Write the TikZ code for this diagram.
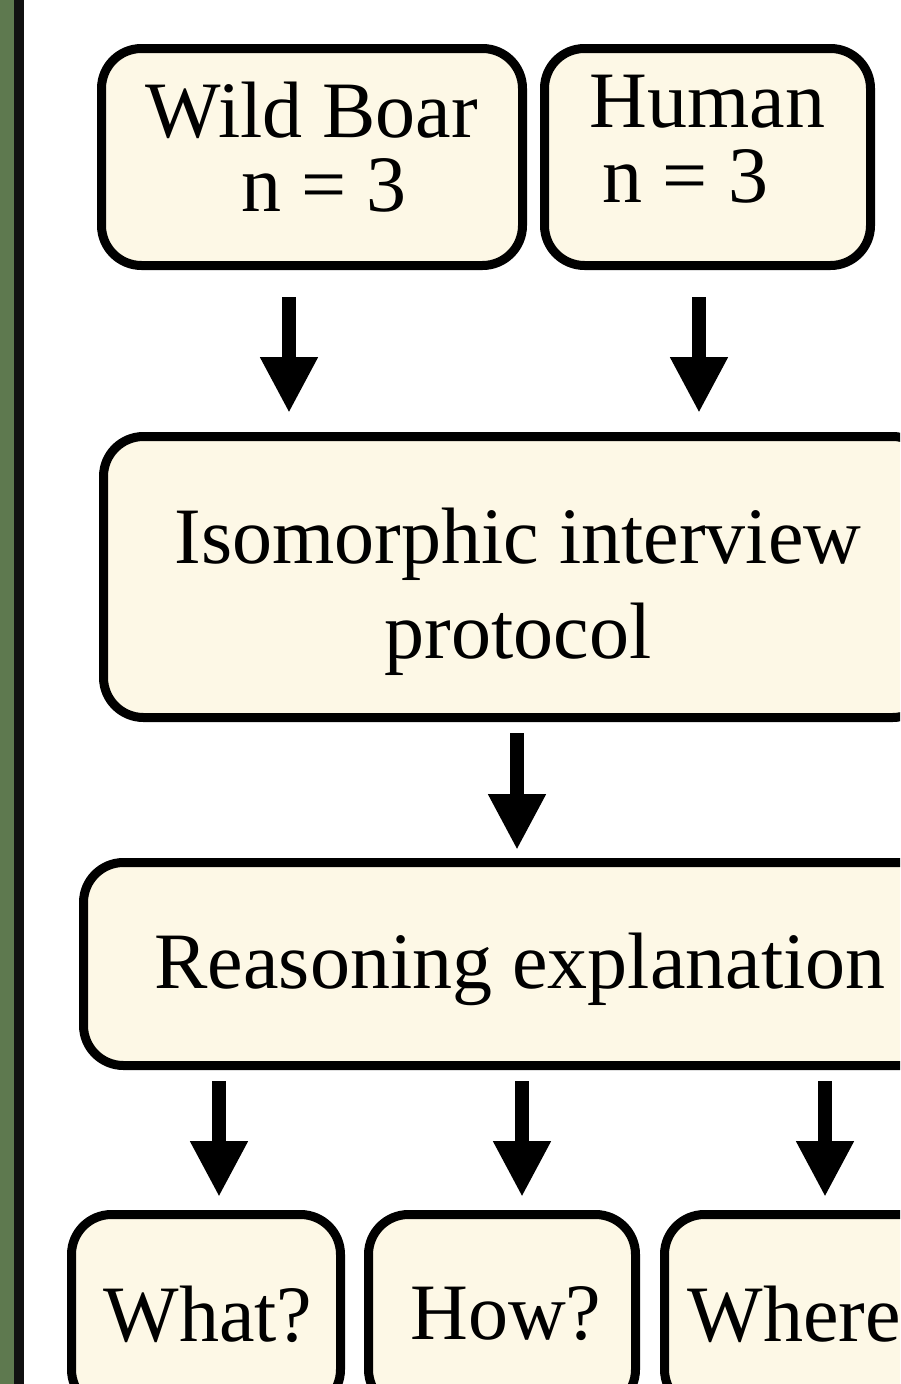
\documentclass[tikz,border=0pt]{standalone}
\usepackage{fontspec}
\setmainfont{Liberation Serif}
\usetikzlibrary{arrows.meta}
\definecolor{boxfill}{RGB}{253,248,230}
\definecolor{barGreen}{RGB}{94,121,79}
\definecolor{barBlack}{RGB}{17,17,17}
\tikzset{
  box/.style={draw=black, fill=boxfill, line width=9pt, rounded corners=40pt,
    inner sep=0pt},
  boxtext/.style={inner sep=0pt, align=center, font=\fontsize{80}{74}\selectfont},
  bigarrow/.style={line width=14pt, line cap=butt,
    -{Triangle[width=54pt,length=56pt]}}
}
\begin{document}
\begin{tikzpicture}[x=1pt,y=-1pt]
\useasboundingbox (0,0) rectangle (900,1384);
\clip (0,0) rectangle (900,1384);
\fill[white] (0,0) rectangle (900,1384);
\fill[barGreen] (0,0) rectangle (14,1384);
\fill[barBlack] (14,0) rectangle (24,1384);

\node[box, minimum width=421pt, minimum height=217pt] (wb) at (312,157) {};
\node[boxtext] (wbt) at ([yshift=10pt]wb.center) {Wild Boar\\\rule{24pt}{0pt}n = 3};
\node[box, minimum width=326pt, minimum height=217pt] (hu) at (707.5,157) {};
\node[boxtext, font=\fontsize{80}{75}\selectfont] (hut) at ([yshift=18pt]hu.center)
  {Human\\n = 3\rule{44pt}{0pt}};
\node[box, minimum width=829pt, minimum height=281pt] (iso) at (518,577) {};
\node[boxtext, font=\fontsize{80}{95}\selectfont] (isot) at ([yshift=-15pt]iso.center)
  {Isomorphic interview\\protocol};
\node[box, minimum width=873pt, minimum height=203pt] (reason) at (520,964) {};
\node[boxtext] (reasont) at ([yshift=-5pt]reason.center) {Reasoning explanation};
\node[box, minimum width=269pt, minimum height=195pt] (what) at (206,1312) {};
\node[boxtext] (whatt) at ([xshift=2pt,yshift=-2pt]what.center) {What?};
\node[box, minimum width=267pt, minimum height=195pt] (how) at (502,1312) {};
\node[boxtext] (howt) at ([xshift=4pt,yshift=-2pt]how.center) {How?};
\node[box, minimum width=295pt, minimum height=195pt] (where) at (812,1312) {};
\node[boxtext] (wheret) at ([yshift=-2pt]where.center) {Where?};

\draw[bigarrow, shorten <=27pt, shorten >=19pt]
  ([xshift=-23pt]wb.south) -- ([xshift=-23pt]wb.south |- iso.north);
\draw[bigarrow, shorten <=27pt, shorten >=19pt]
  ([xshift=-8.5pt]hu.south) -- ([xshift=-8.5pt]hu.south |- iso.north);
\draw[bigarrow, shorten <=11pt, shorten >=8pt]
  ([xshift=-1pt]iso.south) -- ([xshift=-1pt]iso.south |- reason.north);
\draw[bigarrow, shorten <=11pt, shorten >=13pt]
  ([xshift=-301pt]reason.south) -- ([xshift=-301pt]reason.south |- what.north);
\draw[bigarrow, shorten <=11pt, shorten >=13pt]
  ([xshift=2pt]reason.south) -- ([xshift=2pt]reason.south |- how.north);
\draw[bigarrow, shorten <=11pt, shorten >=13pt]
  ([xshift=305pt]reason.south) -- ([xshift=305pt]reason.south |- where.north);
\end{tikzpicture}
\end{document}
